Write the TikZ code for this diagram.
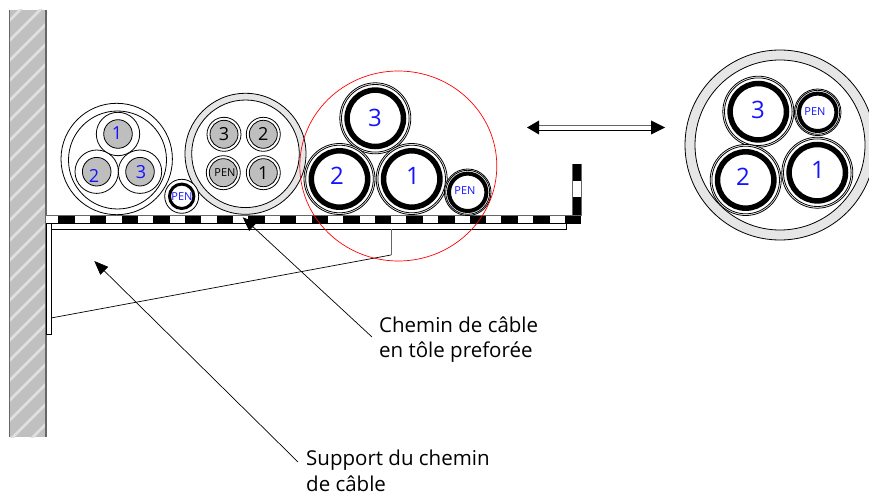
\documentclass[tikz,border=0pt]{standalone}
\usepackage{fontspec}
\setmainfont{Open Sans}
\usetikzlibrary{positioning, arrows.meta}
\newcommand{\DASHPERIOD}{31.65}
\newcommand{\DASHWIDTH}{16.5}
\definecolor{wallgray}{HTML}{C0C0C0}
\definecolor{wallstripe}{HTML}{E0E0E0}
\definecolor{coregray}{HTML}{BEBEBE}
\definecolor{sheathgray}{HTML}{E6E6E6}
\definecolor{edgegray}{HTML}{666666}
\definecolor{labelblue}{HTML}{1414FF}
\tikzset{
    outline/.style={draw=black, line width=0.8pt},
    callout/.style={-{Triangle[length=14pt, width=11pt]}, line width=0.7pt},
    legend/.style={anchor=base west, inner sep=0pt, font=\fontsize{20.5}{22}\selectfont},
    numblue/.style={text=labelblue, inner sep=0pt, font=\fontsize{18}{20}\selectfont},
    numbig/.style={text=labelblue, inner sep=0pt, font=\fontsize{24}{26}\selectfont},
    pentag/.style={inner sep=0pt, font=\fontsize{11}{12}\selectfont},
}

\begin{document}
\begin{tikzpicture}[x=1pt, y=-1pt]
    \clip (0, 0) rectangle (869, 497);

    % mur
    \fill[wallgray] (9, 10) rectangle (46, 437);
    \begin{scope}
        \clip (9, 10) rectangle (46, 437);
        \foreach \k in {0, ..., 24} {
                \draw[wallstripe, line width=2.6pt] (0, 30 + 20 * \k) -- (60, -30 + 20 * \k);
            }
    \end{scope}
    \draw[edgegray, line width=0.6pt] (9, 10) -- (9, 437);
    \draw[edgegray, line width=1.2pt] (46, 10) -- (46, 437);

    % support du chemin
    \draw[outline, fill=white] (46, 223) rectangle (51, 334);
    \draw[outline, fill=white] (51, 223) rectangle (566.7, 229);
    \draw[edgegray, line width=0.8pt] (391, 229) -- (391, 255);
    \draw[line width=0.7pt] (391, 255) -- (51, 318);

    % chemin de cable
    \fill[white] (46, 215) rectangle (581, 223);
    \foreach \k in {0, ..., 16} {
            \pgfmathsetmacro{\xdash}{58.3 + \DASHPERIOD * \k}
            \fill (\xdash, 215) rectangle (\xdash + \DASHWIDTH, 223);
        }
    \draw[edgegray, line width=1pt] (46, 215) -- (581, 215);
    \draw[line width=0.8pt] (46, 223) -- (581, 223);
    \draw[edgegray, line width=0.6pt, fill=white] (572.7, 164) rectangle (581, 215);
    \fill (572.7, 164) rectangle (581, 181);
    \fill (572.7, 197) rectangle (581, 215);

    % cable tripolaire
    \draw[outline, fill=white] (116.7, 159) circle (55.7);
    \draw[outline] (117.5, 160) circle (49);
    \foreach \cx/\cy/\txt/\lx/\ly/\name in {
            118/134/1/117/133/triA,
            96.7/171.7/2/94/176/triB,
            140/171.7/3/141/172/triC
        } {
            \draw[outline, fill=white] (\cx, \cy) circle (21.7);
            \draw[outline, fill=coregray] (\cx, \cy) circle (14.3);
            \node[numblue] (\name) at (\lx, \ly) {\txt};
        }

    % cable tetrapolaire
    \draw[outline, fill=sheathgray] (245.5, 153.8) circle (60.5);
    \draw[outline, fill=white] (245.5, 153.8) circle (53.8);
    \foreach \cx/\cy/\txt/\name in {
            224/134.3/3/tetraA,
            263.3/134.3/2/tetraB,
            263.3/172.7/1/tetraC
        } {
            \draw[outline, fill=white] (\cx, \cy) circle (17);
            \draw[outline, fill=coregray] (\cx, \cy) circle (14);
            \node[inner sep=0pt, font=\fontsize{18}{20}\selectfont] (\name) at (\cx, \cy) {\txt};
        }
    \draw[outline, fill=white] (223.3, 172.7) circle (17);
    \draw[outline, fill=coregray] (223.3, 172.7) circle (14);
    \node[pentag] (tetraPen) at (225, 172.5) {PEN};

    % neutre isole
    \draw[outline, fill=white] (181.7, 196.3) circle (17);
    \draw[line width=3pt, fill=white] (181.7, 196.3) circle (12.2);
    \node[pentag, text=labelblue] (penA) at (182, 197) {PEN};

    % gaine du detail a droite
    \draw[outline, even odd rule, fill=sheathgray] (780, 145) circle (95) (780, 145) circle (85);

    % cables unipolaires
    \foreach \cx/\cy/\txt/\lx/\ly/\name in {
            375.3/118.3/3/375/118/uniA,
            339.5/179/2/337/176/uniB,
            411.7/179/1/413/176/uniC,
            758.3/111.7/3/758/110/rightA,
            745.7/180/2/743/177/rightB,
            817.3/172.7/1/818/170/rightC
        } {
            \draw[outline, fill=white] (\cx, \cy) circle (35.5);
            \draw[outline] (\cx, \cy) circle (33.8);
            \draw[line width=5.5pt] (\cx, \cy) circle (28.2);
            \node[numbig] (\name) at (\lx, \ly) {\txt};
        }

    % neutres des unipolaires
    \foreach \cx/\cy/\lx/\ly/\name in {
            467.7/192.3/465/191/penB,
            817.7/112.3/815/112/penC
        } {
            \draw[outline, fill=white] (\cx, \cy) circle (23.3);
            \draw[outline] (\cx, \cy) circle (22);
            \draw[line width=4pt] (\cx, \cy) circle (18.7);
            \node[pentag, text=labelblue] (\name) at (\lx, \ly) {PEN};
        }

    % zoom
    \draw[red, line width=0.7pt] (398.3, 166) ellipse [x radius=98.5, y radius=95];

    % double fleche
    \coordinate (doubleL) at (527, 127.5);
    \coordinate (doubleR) at (665, 127.5);
    \draw[edgegray, line width=0.8pt] (535, 125) -- (657, 125);
    \draw[line width=1pt] (535, 130.7) -- (657, 130.7);
    \fill (doubleL) -- (539, 120.5) -- (539, 134.5) -- cycle;
    \fill (doubleR) -- (651, 120.5) -- (651, 134.5) -- cycle;

    % legendes
    \node[legend] (cheminA) at (379, 332) {Chemin de câble};
    \node[legend] (cheminB) at (379, 357) {en tôle preforée};
    \node[legend] (supportA) at (306, 465) {Support du chemin};
    \node[legend] (supportB) at (306, 491) {de câble};

    \coordinate (cheminStart) at (372, 337);
    \coordinate (cheminTip) at (242.7, 217.3);
    \coordinate (supportStart) at (298, 462);
    \coordinate (supportTip) at (94.3, 261);
    \draw[callout] (cheminStart) -- (cheminTip);
    \draw[callout] (supportStart) -- (supportTip);
\end{tikzpicture}
\end{document}
